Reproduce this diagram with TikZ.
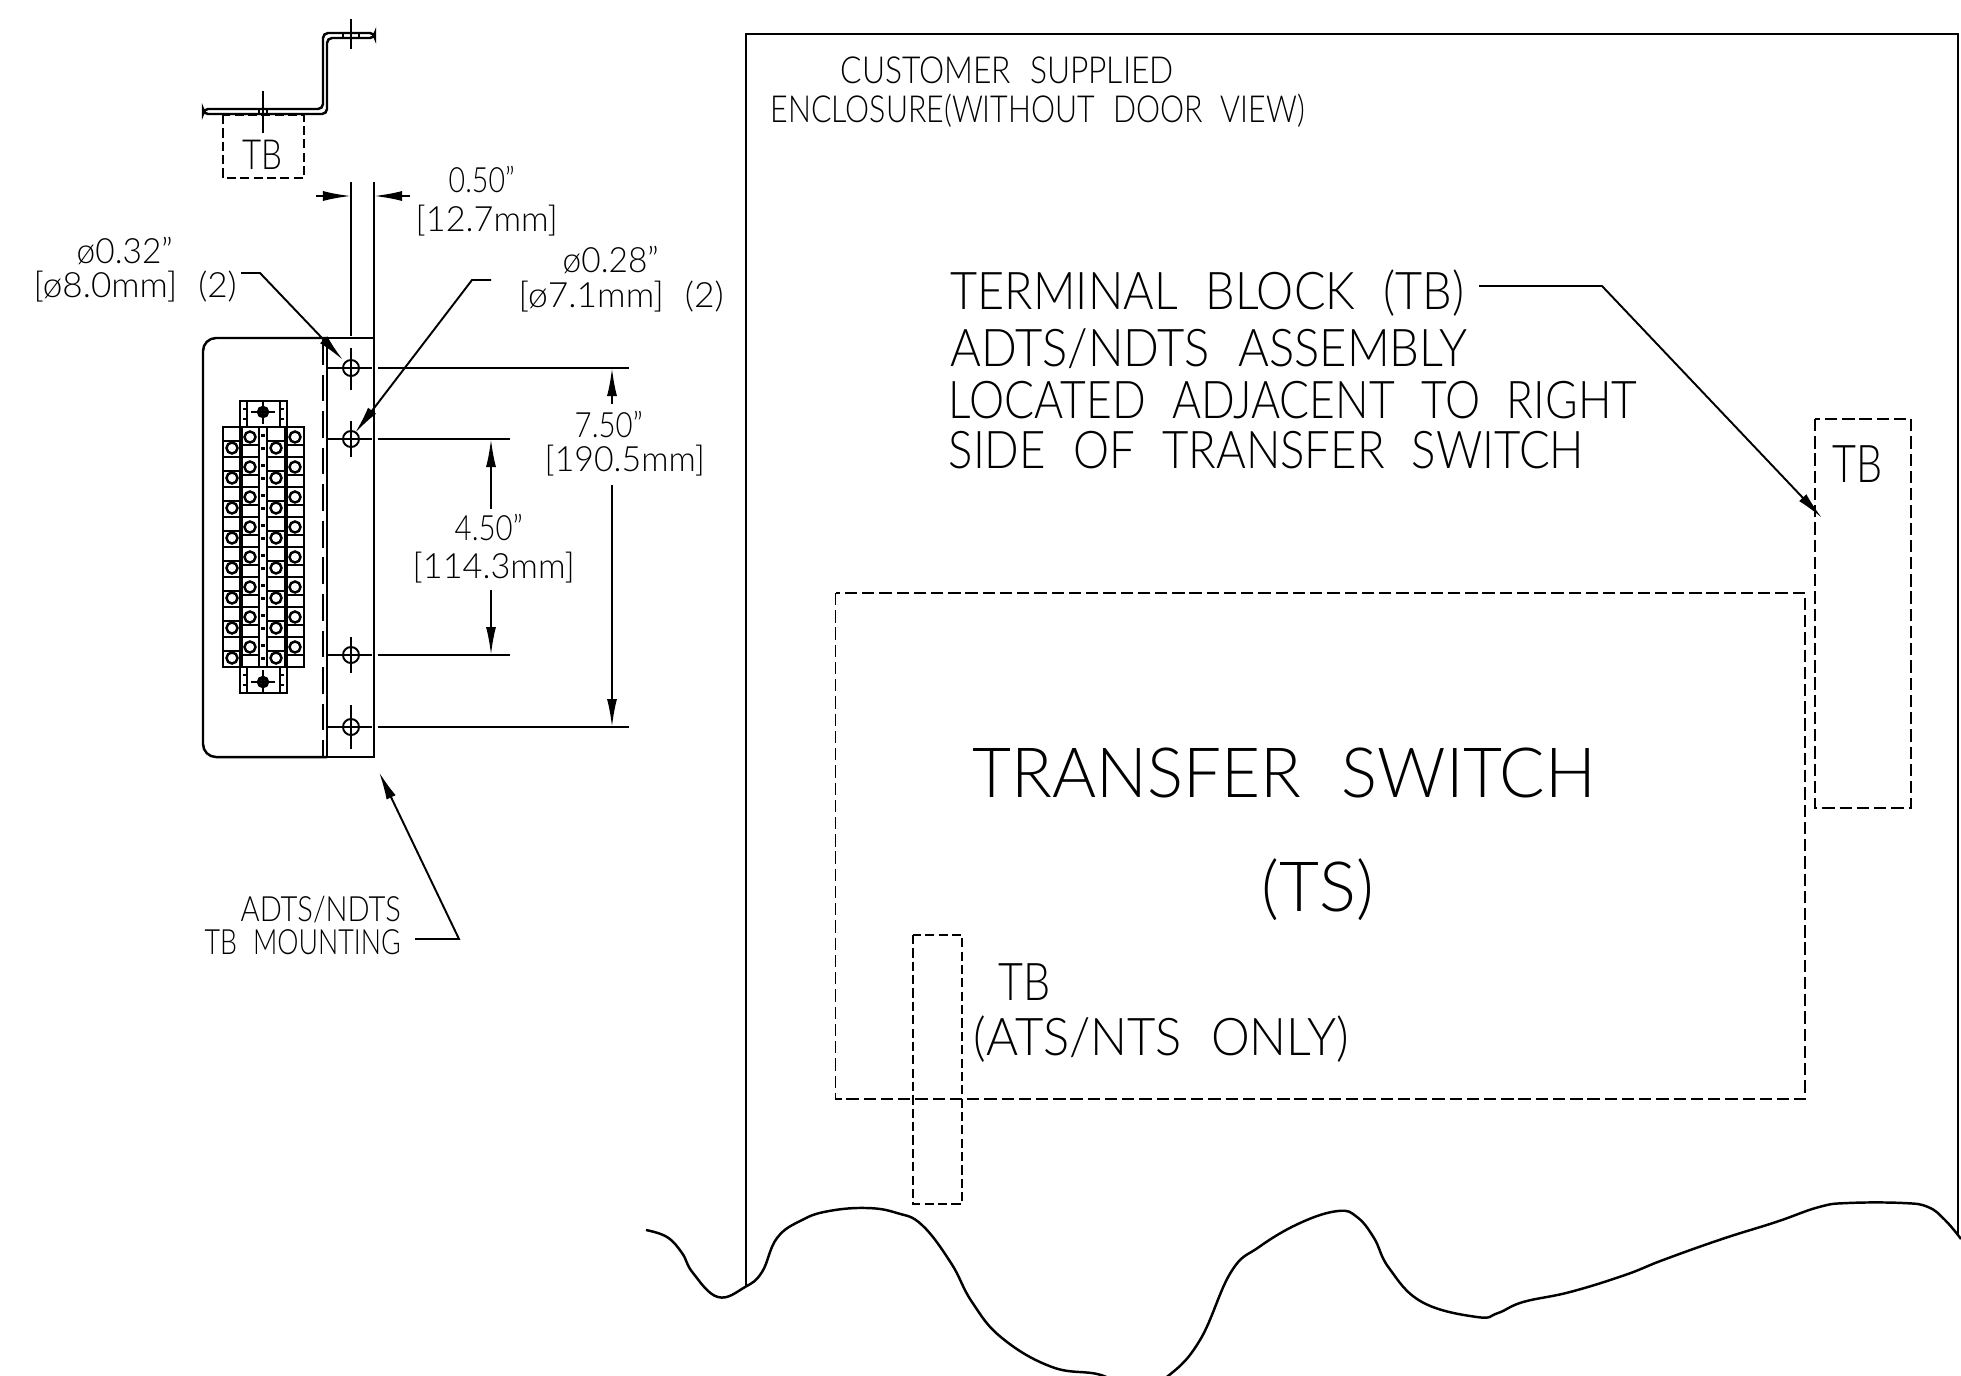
\documentclass[tikz,border=0pt]{standalone}
\usepackage{graphicx}
\usepackage{fontspec}
\setmainfont{Lato Light}[WordSpace=2.2]
\usetikzlibrary{arrows.meta}
% squeeze a text to the width it has in the drawing
\newcommand{\fitw}[2]{\resizebox{#1}{\height}{#2}}
\begin{document}
\begin{tikzpicture}[
  x=0.01cm, y=-0.01cm,
  part/.style={line width=0.7pt},
  thinline/.style={line width=0.55pt},
  dashbox/.style={line width=0.55pt, dash pattern=on 3.5pt off 1.4pt},
  finedash/.style={line width=0.55pt, dash pattern=on 2.6pt off 1.2pt},
  dim/.style={-{Latex[length=0.28cm,width=0.1cm]}, line width=0.55pt},
  lbl/.style={inner sep=0pt, anchor=west, text=black},
  small/.style={lbl, font=\fontsize{9.9}{12}\selectfont},
  mid/.style={lbl, font=\fontsize{14.8}{18}\selectfont},
  big/.style={lbl, font=\fontsize{19.7}{24}\selectfont}
]
\useasboundingbox (0,0) rectangle (1961,1375);

% named points
\coordinate (hole1) at (351,368);
\coordinate (hole2) at (351,439);
\coordinate (hole3) at (351,655);
\coordinate (hole4) at (351,727);
\coordinate (end1) at (629,368);
\coordinate (end2) at (510,439);
\coordinate (end3) at (510,655);
\coordinate (end4) at (629,727);

% bracket side view
\draw[part, rounded corners=0.05cm] (203,109) -- (323,109) -- (323,33) -- (375,33) -- (375,38)
  -- (327,38) -- (327,114) -- (203,114) -- cycle;
\draw[thinline] (263,91) -- (263,133);
\draw[thinline] (351,19) -- (351,49);
\draw[thinline] (259,109) -- (259,114) (267,109) -- (267,114);
\draw[thinline] (343,33) -- (343,38) (359,33) -- (359,38);
\draw[finedash] (223,115) rectangle (304,178);
\node[lbl, font=\fontsize{11.8}{14}\selectfont] (tbtop) at (242,155) {\fitw{0.4cm}{TB}};

% plate
\draw[part, rounded corners=0.13cm] (327,338) -- (203,338) -- (203,757) -- (327,757);
\draw[part] (327,338) rectangle (374,757);
\draw[part, dash pattern=on 7.6pt off 2.8pt] (323,338) -- (323,757);
\foreach \pt in {hole1,hole2,hole3,hole4} {
  \draw[thinline] (\pt) circle[radius=0.08cm];
}
\draw[thinline] (351,348) -- (351,390) (351,421) -- (351,457) (351,637) -- (351,673) (351,705) -- (351,749);
\draw[thinline] (351,182) -- (351,336);
\draw[thinline] (374,182) -- (374,338);

% extension lines
\draw[thinline] (328,368) -- (372,368) (378,368) -- (end1);
\draw[thinline] (328,439) -- (372,439) (378,439) -- (end2);
\draw[thinline] (328,655) -- (372,655) (378,655) -- (end3);
\draw[thinline] (328,727) -- (372,727) (378,727) -- (end4);

% terminal block
\foreach \i in {0,...,7} {
  \pgfmathsetmacro{\ya}{427+30*\i}
  \draw[part] (223,\ya) rectangle (240,\ya+30);
  \draw[part] (223,\ya+14) -- (240,\ya+14);
  \draw[part] (232,\ya+21) circle[radius=0.055cm];
  \draw[part] (242,\ya) rectangle (259,\ya+30);
  \draw[part] (242,\ya+18) -- (259,\ya+18);
  \draw[part] (250,\ya+10) circle[radius=0.055cm];
  \draw[part] (267,\ya) rectangle (285,\ya+30);
  \draw[part] (267,\ya+14) -- (285,\ya+14);
  \draw[part] (276,\ya+21) circle[radius=0.055cm];
  \draw[part] (287,\ya) rectangle (304,\ya+30);
  \draw[thinline] (287,\ya+18) -- (304,\ya+18);
  \draw[part] (295,\ya+10) circle[radius=0.055cm];
  \fill (261,\ya+7) rectangle (265,\ya+10);
  \fill (261,\ya+20) rectangle (265,\ya+23);
}
\draw[part] (223,427) -- (304,427) (223,667) -- (304,667);
\foreach \ya/\yb/\yc in {401/427/412, 667/693/682} {
  \draw[part] (240,\ya) rectangle (287,\yb);
  \draw[part] (247,\ya) -- (247,\yb) (280,\ya) -- (280,\yb);
  \draw[thinline] (243,\ya+8) -- (247,\ya+8) (243,\yb-8) -- (247,\yb-8);
  \draw[thinline] (280,\ya+8) -- (284,\ya+8) (280,\yb-8) -- (284,\yb-8);
  \draw[part] (263,\yc) circle[radius=0.05cm];
  \draw[thinline] (263,\yc) circle[radius=0.03cm];
  \draw[thinline] (251,\yc) -- (275,\yc) (263,\yc-12) -- (263,\yc+12);
}

% dimensions
\coordinate (d1a) at (316,196);
\coordinate (d1b) at (351,196);
\coordinate (d1c) at (410,196);
\coordinate (d1d) at (374,196);
\draw[dim] (d1a) -- (d1b);
\draw[dim] (d1c) -- (d1d);
\node[small] (dimhalf) at (448,179) {\fitw{0.66cm}{0.50”}};
\node[small] (dimhalfmm) at (415,221) {\fitw{1.42cm}{[12.7mm]}};

\coordinate (d2a) at (491,509);
\coordinate (d2b) at (491,439);
\coordinate (d2c) at (491,590);
\coordinate (d2d) at (491,655);
\draw[dim] (d2a) -- (d2b);
\draw[dim] (d2c) -- (d2d);
\node[small] (dimfour) at (454,527) {\fitw{0.68cm}{4.50”}};
\node[small] (dimfourmm) at (412,568) {\fitw{1.62cm}{[114.3mm]}};

\coordinate (d3a) at (612,404);
\coordinate (d3b) at (612,368);
\coordinate (d3c) at (612,485);
\coordinate (d3d) at (612,727);
\draw[dim] (d3a) -- (d3b);
\draw[dim] (d3c) -- (d3d);
\node[small] (dimseven) at (574,424) {\fitw{0.68cm}{7.50”}};
\node[small] (dimsevenmm) at (544,461) {\fitw{1.6cm}{[190.5mm]}};

% hole callouts
\node[small] (diaa) at (76,251) {\fitw{0.96cm}{ø0.32”}};
\node[small] (diaamm) at (33,287) {\fitw{2.03cm}{[ø8.0mm] (2)}};
\coordinate (leada) at (241,273);
\coordinate (benda) at (260,273);
\coordinate (tipa) at (343,360);
\draw[dim] (leada) -- (benda) -- (tipa);

\node[small] (diab) at (562,260) {\fitw{0.96cm}{ø0.28”}};
\node[small] (diabmm) at (518,297) {\fitw{2.05cm}{[ø7.1mm] (2)}};
\coordinate (leadb) at (491,280);
\coordinate (bendb) at (472,280);
\coordinate (tipb) at (355,433);
\draw[dim] (leadb) -- (bendb) -- (tipb);

% mounting label
\node[small] (mounta) at (240,910) {\fitw{1.6cm}{ADTS/NDTS}};
\node[small] (mountb) at (204,942) {\fitw{1.96cm}{TB MOUNTING}};
\coordinate (leadc) at (415,939);
\coordinate (bendc) at (459,939);
\coordinate (tipc) at (379,772);
\draw[dim] (leadc) -- (bendc) -- (tipc);

% enclosure
\coordinate (enca) at (746,1287);
\coordinate (encb) at (746,34);
\coordinate (encc) at (1958,34);
\coordinate (encd) at (1958,1235);
\draw[thinline] (enca) -- (encb) -- (encc) -- (encd);
\node[small, font=\fontsize{10.6}{12}\selectfont] (custa) at (840,70) {\fitw{3.33cm}{CUSTOMER SUPPLIED}};
\node[small, font=\fontsize{10.6}{12}\selectfont] (custb) at (770,111) {\fitw{5.34cm}{ENCLOSURE(WITHOUT DOOR VIEW)}};

\node[mid] (terma) at (950,293) {\fitw{5.13cm}{TERMINAL BLOCK (TB)}};
\node[mid] (termb) at (950,349) {\fitw{5.16cm}{ADTS/NDTS ASSEMBLY}};
\node[mid] (termc) at (948,400) {\fitw{6.88cm}{LOCATED ADJACENT TO RIGHT}};
\node[mid] (termd) at (948,450) {\fitw{6.35cm}{SIDE OF TRANSFER SWITCH}};
\coordinate (leadd) at (1479,286);
\coordinate (bendd) at (1602,286);
\coordinate (tipd) at (1822,518);
\draw[dim] (leadd) -- (bendd) -- (tipd);

% boxes in the enclosure
\draw[dashbox] (835.5,593) rectangle (1805,1099);
\draw[dashbox] (1815,419) rectangle (1911,808);
\draw[finedash] (913,935) rectangle (962,1204);
\node[mid] (tbright) at (1832,464) {\fitw{0.5cm}{TB}};
\node[big] (tswitch) at (972,773) {\fitw{6.23cm}{TRANSFER SWITCH}};
\node[big] (tsshort) at (1261,890) {\fitw{1.12cm}{(TS)}};
\node[mid] (tblow) at (998,982) {\fitw{0.52cm}{TB}};
\node[mid] (tsonly) at (973,1039) {\fitw{3.75cm}{(ATS/NTS ONLY)}};

% break line
\draw[part] plot[smooth, tension=0.7] coordinates {
  (646,1230) (667,1237) (682,1253) (693,1273) (718,1297) (745,1287) (762,1272) (777,1238)
  (802,1220) (829,1211) (867,1208) (897,1213) (922,1225) (951,1263) (972,1302) (1002,1338)
  (1052,1367) (1101,1375) (1135,1392) (1168,1376) (1200,1340) (1231,1272) (1259,1247) (1300,1223)
  (1338,1211) (1357,1217) (1374,1238) (1389,1268) (1422,1302) (1477,1317) (1498,1313) (1523,1302)
  (1570,1292) (1625,1275) (1663,1260) (1722,1239) (1776,1222) (1819,1207) (1848,1203) (1903,1203)
  (1928,1207) (1945,1220) (1961,1239)};
\end{tikzpicture}
\end{document}
